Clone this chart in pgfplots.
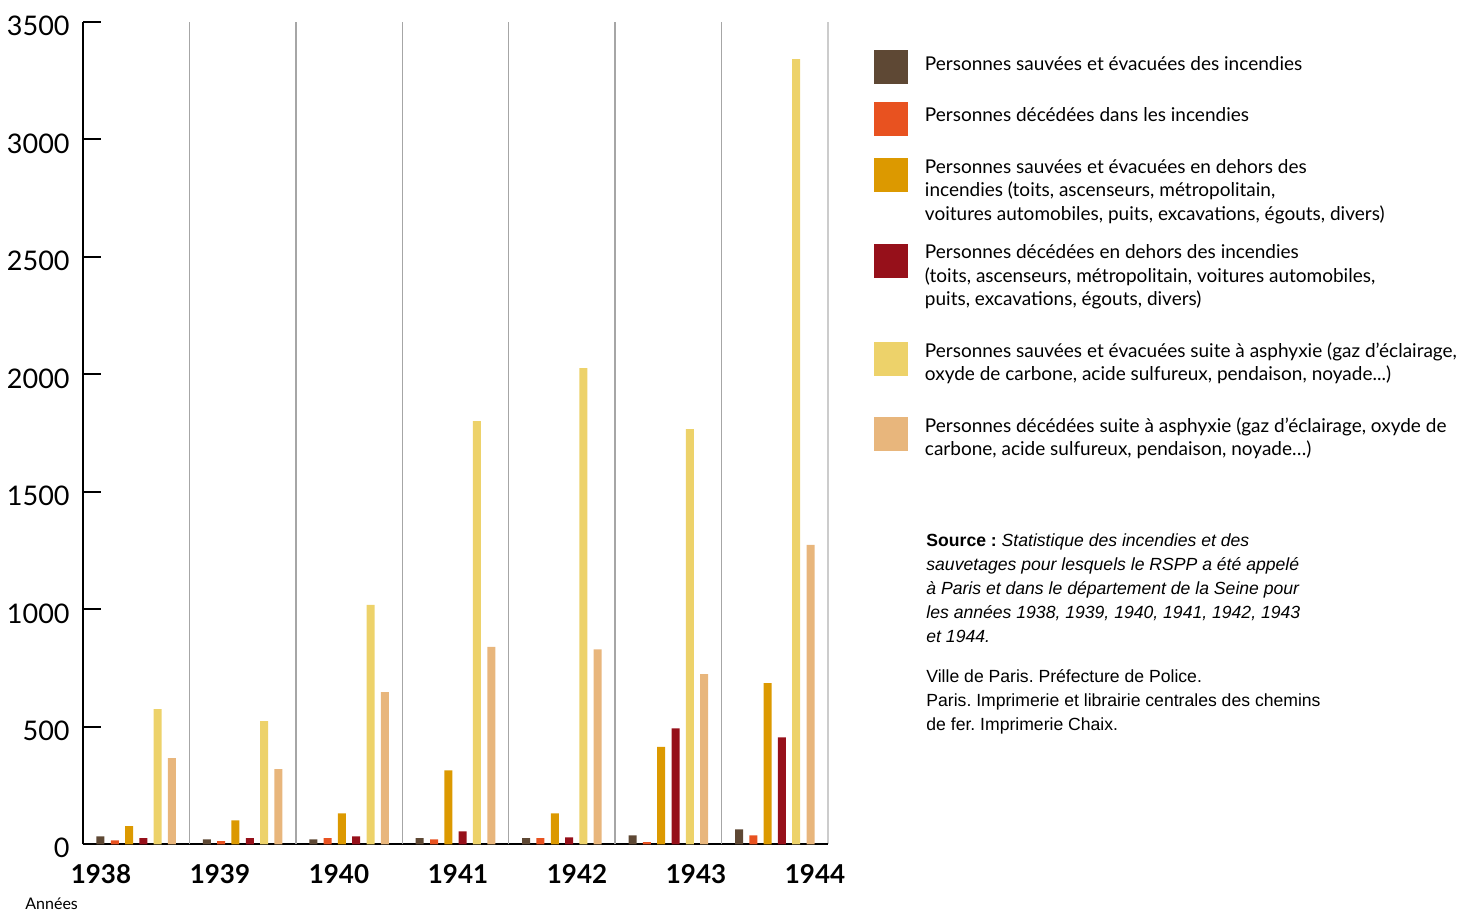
\documentclass[border=0pt]{standalone}
\usepackage{fontspec}
\setmainfont{Lato}
\newfontfamily\arial{Liberation Sans}
\usepackage{pgfplots}
\pgfplotsset{compat=1.18}
\frenchspacing

\definecolor{cBrown}{HTML}{5E4834}
\definecolor{cOrange}{HTML}{E85220}
\definecolor{cGold}{HTML}{DC9900}
\definecolor{cRed}{HTML}{96101A}
\definecolor{cYellow}{HTML}{EDD26A}
\definecolor{cPeach}{HTML}{E8B67C}

% legend squares, placed relative to the first line of each entry
\pgfplotsset{
  sqone/.style={legend image code/.code={\path (0pt,0pt) rectangle (17pt,0pt);
      \fill[##1,overlay] (0pt,-9.35pt) rectangle (17pt,7.65pt);}},
  sqtwo/.style={legend image code/.code={\path (0pt,0pt) rectangle (17pt,0pt);
      \fill[##1,overlay] (0pt,-5.975pt) rectangle (17pt,11.025pt);}},
  sqthree/.style={legend image code/.code={\path (0pt,0pt) rectangle (17pt,0pt);
      \fill[##1,overlay] (0pt,-0.1pt) rectangle (17pt,16.9pt);}},
  sqthreeb/.style={legend image code/.code={\path (0pt,0pt) rectangle (17pt,0pt);
      \fill[##1,overlay] (0pt,-3.35pt) rectangle (17pt,13.65pt);}},
}
\newcommand\legtab[1]{\begin{tabular}{@{}l@{}}#1\end{tabular}}

\begin{document}
\begin{tikzpicture}
\path[use as bounding box] (0,0) rectangle (730.5pt,455.5pt);
\begin{axis}[
  at={(41.5pt,33.35pt)}, anchor=south west,
  scale only axis, width=372.5pt, height=411.15pt,
  xmin=-0.5, xmax=6.5, ymin=0, ymax=3500,
  ybar=3.15pt, bar width=4pt,
  axis x line*=bottom, axis y line*=left,
  axis line style={black, line width=1pt},
  tick align=inside,
  major tick length=9pt,
  ytick={0,500,...,3500},
  ytick style={black, line width=1pt},
  yticklabel style={font=\fontsize{13.5}{16}\selectfont, inner sep=0pt, xshift=-6.5pt, yshift=-2pt},
  /pgf/number format/assume math mode=true,
  scaled y ticks=false,
  y tick label style={/pgf/number format/1000 sep=},
  xtick={-0.331,0.787,1.905,3.024,4.142,5.260,6.378},
  xticklabels={1938,1939,1940,1941,1942,1943,1944},
  xtick style={draw=none},
  xticklabel style={font=\bfseries\fontsize{13}{16}\selectfont, inner sep=0pt, yshift=-10pt},
  extra x ticks={0.5,1.5,2.5,3.5,4.5,5.5},
  extra x tick labels={},
  extra x tick style={grid=major, major grid style={draw=black!35, line width=0.7pt}, tick style={draw=none}},
  minor xtick={6.5}, xminorgrids,
  minor grid style={draw=black!20, line width=0.9pt},
  minor tick length=0pt,
  legend cell align=left,
  legend style={at={(axis description cs:1.0617,0.9616)}, anchor=north west,
    draw=none, fill=none, inner sep=0pt, outer sep=0pt,
    row sep=14pt, column sep=8.5pt,
    font=\fontsize{9.5}{11.75}\selectfont,
    nodes={inner sep=0pt, text depth={}}},
]
\addplot[fill=cBrown, draw=none, sqone] coordinates {(0,34) (1,21) (2,21) (3,26) (4,26) (5,38) (6,64)};
\addlegendentry{\legtab{Personnes sauvées et évacuées des incendies}}
\addplot[fill=cOrange, draw=none, sqone] coordinates {(0,17) (1,13) (2,26) (3,21) (4,26) (5,9) (6,38)};
\addlegendentry{\legtab{Personnes décédées dans les incendies}}
\addplot[fill=cGold, draw=none, sqthreeb] coordinates {(0,77) (1,102) (2,132) (3,315) (4,132) (5,415) (6,686)};
\addlegendentry{\raisebox{0pt}[\height][\dimexpr\depth-6.5pt\relax]{\legtab{Personnes sauvées et évacuées en dehors des\\incendies (toits, ascenseurs, métropolitain,\\voitures automobiles, puits, excavations, égouts, divers)}}}
\addplot[fill=cRed, draw=none, sqthree] coordinates {(0,26) (1,26) (2,34) (3,55) (4,30) (5,493) (6,455)};
\addlegendentry{\legtab{Personnes décédées en dehors des incendies\\(toits, ascenseurs, métropolitain, voitures automobiles,\\puits, excavations, égouts, divers)}}
\addplot[fill=cYellow, draw=none, sqtwo] coordinates {(0,575) (1,524) (2,1019) (3,1801) (4,2027) (5,1767) (6,3342)};
\addlegendentry{\legtab{Personnes sauvées et évacuées suite à asphyxie (gaz d'éclairage,\\oxyde de carbone, acide sulfureux, pendaison, noyade...)}}
\addplot[fill=cPeach, draw=none, sqtwo] coordinates {(0,367) (1,320) (2,648) (3,840) (4,830) (5,724) (6,1274)};
\addlegendentry{\legtab{Personnes décédées suite à asphyxie (gaz d'éclairage, oxyde de\\carbone, acide sulfureux, pendaison, noyade…)}}
\end{axis}
\node[anchor=base west, inner sep=0pt, font=\fontsize{8}{10}\selectfont] at (12.5pt,0.9pt) {Années};
\node[anchor=north west, align=left, inner sep=0pt, font=\arial\fontsize{8.8}{12}\selectfont] at (463pt,189pt) {%
\textbf{Source :} \textit{Statistique des incendies et des}\\
\textit{sauvetages pour lesquels le RSPP a été appelé}\\
\textit{à Paris et dans le département de la Seine pour}\\
\textit{les années 1938, 1939, 1940, 1941, 1942, 1943}\\
\textit{et 1944.}\\[8pt]
Ville de Paris. Préfecture de Police.\\
Paris. Imprimerie et librairie centrales des chemins\\
de fer. Imprimerie Chaix.};
\end{tikzpicture}
\end{document}
